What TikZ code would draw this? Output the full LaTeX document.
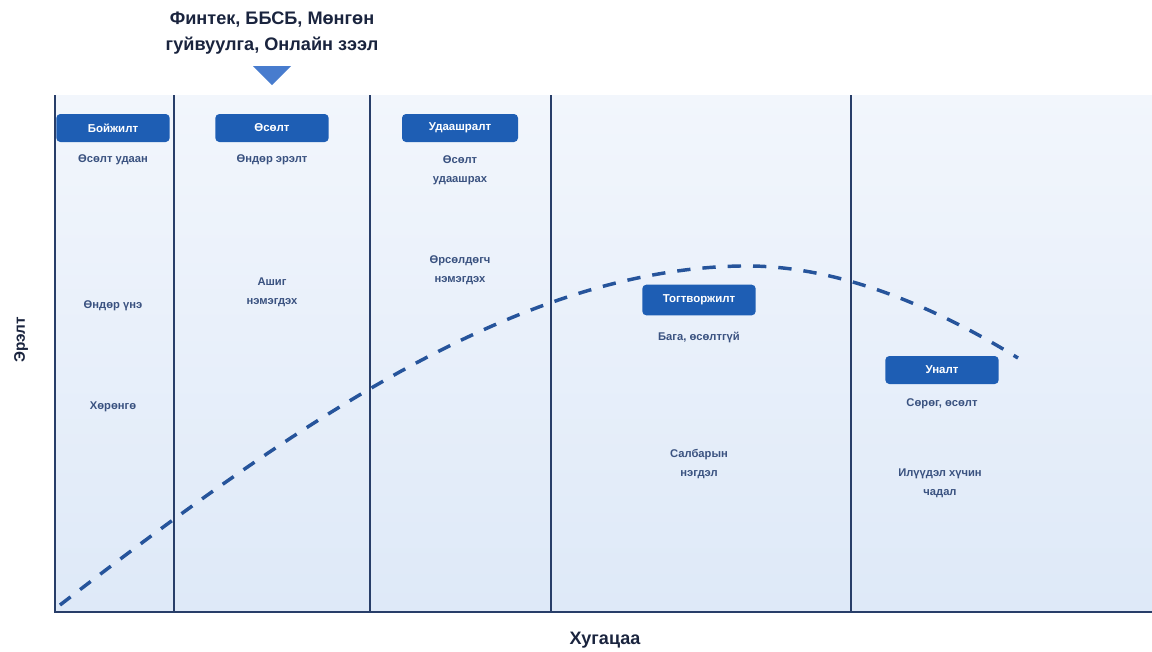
\documentclass[tikz,border=0pt]{standalone}
\usepackage{fontspec}
\setmainfont{Liberation Sans}
\usetikzlibrary{positioning}
\definecolor{stageblue}{RGB}{30,94,180}
\definecolor{axisnavy}{RGB}{40,62,105}
\definecolor{titleink}{RGB}{26,36,62}
\definecolor{notegray}{RGB}{58,82,128}
\definecolor{paneltop}{RGB}{242,246,252}
\definecolor{panelbottom}{RGB}{222,233,248}
\definecolor{curveblue}{RGB}{38,84,155}
\definecolor{markerblue}{RGB}{72,124,206}

\tikzset{
  stagebox/.style={fill=stageblue, rounded corners=3pt, minimum width=85pt,
    minimum height=21pt, text=white, font=\bfseries\fontsize{8.6}{10}\selectfont},
  note/.style={text=notegray, align=center, font=\bfseries\fontsize{8.4}{14}\selectfont},
  divider/.style={axisnavy, line width=1.8pt},
  curve/.style={curveblue, line width=2.6pt, dash pattern=on 10pt off 9pt},
}

\begin{document}
\begin{tikzpicture}[x=0.75pt,y=-0.75pt]
  \useasboundingbox (0,0) rectangle (1152,651);

  % panel and axes
  \shade[top color=paneltop, bottom color=panelbottom] (55,95) rectangle (1152,612);
  \foreach \x in {174,370,551,851}
    \draw[divider] (\x,95) -- (\x,612);
  \draw[divider] (55,95) -- (55,612) -- (1152,612);

  % demand curve
  \draw[curve] (60,605) .. controls (300,420) and (520,270) .. (740,266)
    .. controls (840,264) and (940,310) .. (1018,358);

  % stages
  \node[stagebox] (intro) at (113,128) {Бойжилт};
  \node[stagebox] (growth) at (272,128) {Өсөлт};
  \node[stagebox, minimum width=87pt] (slow) at (460,128) {Удаашралт};
  \node[stagebox, minimum height=23pt] (mature) at (699,300) {Тогтворжилт};
  \node[stagebox] (decline) at (942,370) {Уналт};

  \node[note] (introA) at (113,160) {Өсөлт удаан};
  \node[note] (introB) at (113,306) {Өндөр үнэ};
  \node[note] (introC) at (113,407) {Хөрөнгө};
  \node[note] (growthA) at (272,160) {Өндөр эрэлт};
  \node[note] (growthB) at (272,292) {Ашиг\\нэмэгдэх};
  \node[note] (slowA) at (460,170) {Өсөлт\\удаашрах};
  \node[note] (slowB) at (460,270) {Өрсөлдөгч\\нэмэгдэх};
  \node[note] (matureA) at (699,337) {Бага, өсөлтгүй};
  \node[note] (matureB) at (699,464) {Салбарын\\нэгдэл};
  \node[note] (declineA) at (942,404) {Сөрөг, өсөлт};
  \node[note] (declineB) at (940,483) {Илүүдэл хүчин\\чадал};

  % fintech marker
  \node[align=center, text=titleink, font=\bfseries\fontsize{13.6}{19}\selectfont]
    (fintech) at (272,33) {Финтек, ББСБ, Мөнгөн\\гуйвуулга, Онлайн зээл};
  \fill[markerblue] (253,66) -- (291,66) -- (272,85) -- cycle;

  % axis labels
  \node[rotate=90, text=titleink, font=\bfseries\fontsize{11.5}{13}\selectfont] (ylab) at (21,340) {Эрэлт};
  \node[text=titleink, font=\bfseries\fontsize{13.5}{15}\selectfont] (xlab) at (605,640) {Хугацаа};
\end{tikzpicture}
\end{document}
